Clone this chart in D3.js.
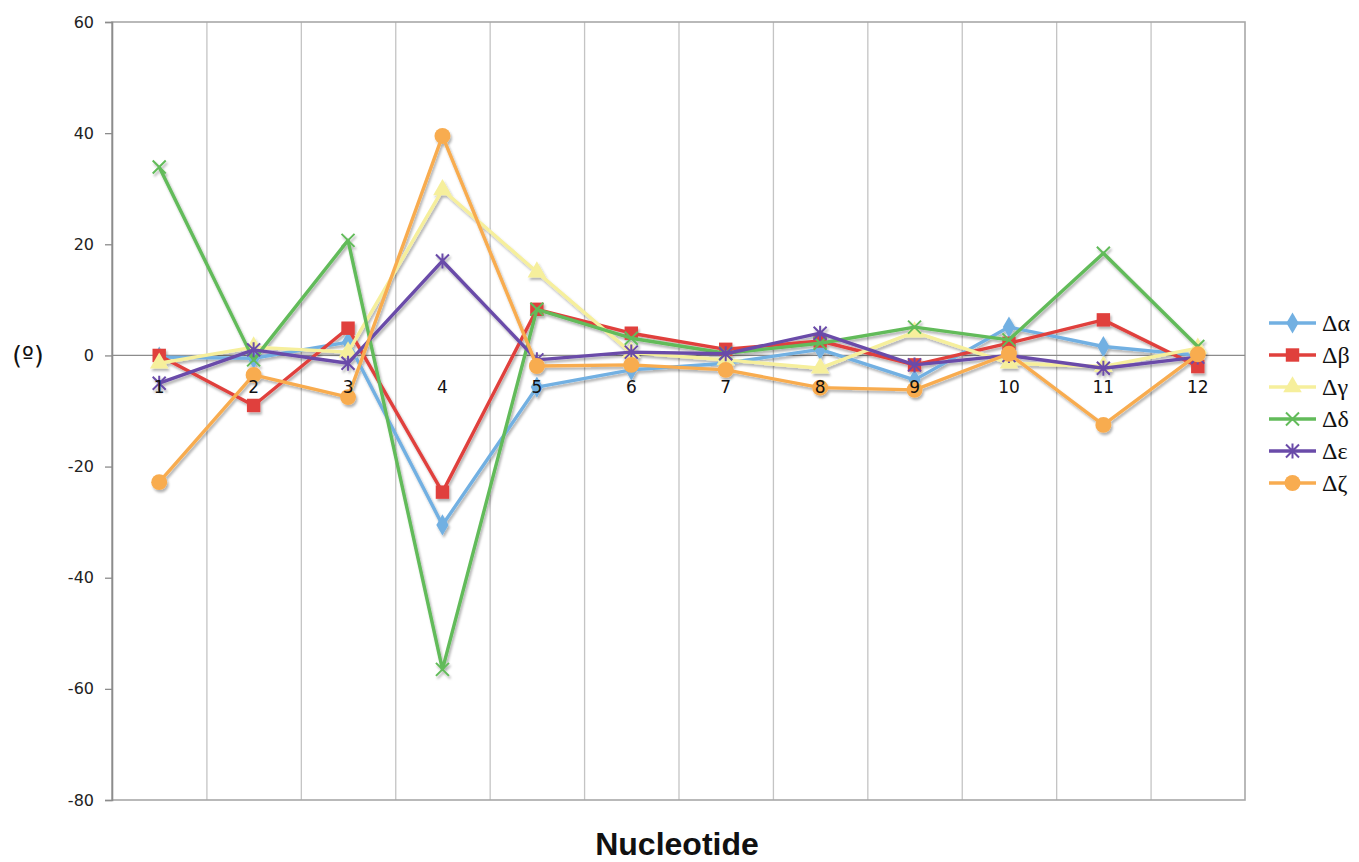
<!DOCTYPE html>
<html>
<head>
<meta charset="utf-8">
<script src="https://cdn.jsdelivr.net/npm/d3@7"></script>
<style>
  body { margin: 0; background: #fff; }
  svg { display: block; }
  .legend-label { font-family: "Liberation Serif", "Times New Roman", "DejaVu Serif", serif; }
</style>
</head>
<body>
<svg id="chart" width="1359" height="862"></svg>
<script>
const nucleotides = ['1', '2', '3', '4', '5', '6', '7', '8', '9', '10', '11', '12']
const yTicks = [60, 40, 20, 0, -20, -40, -60, -80]

const seriesNames = ['Δα', 'Δβ', 'Δγ', 'Δδ', 'Δε', 'Δζ']
const seriesColors = ['#72b0e2', '#e0403c', '#f6ef9c', '#62bb5a', '#6a4ba9', '#f8ac50']
const seriesMarkers = ['diamond', 'square', 'triangle', 'cross', 'star', 'circle']

const dAlpha = [-0.3, -0.5, 2.4, -30.5, -5.7, -2.6, -1.4, 1.1, -4.4, 5.1, 1.6, 0]
const dBeta = [0, -9, 4.9, -24.6, 8.3, 4.0, 1.1, 2.6, -1.7, 2.2, 6.4, -2]
const dGamma = [-1.4, 1.5, 0.6, 29.8, 15, 0.5, -0.8, -2.3, 4.2, -1.4, -2, 1.3]
const dDelta = [33.9, -0.8, 20.7, -56.5, 8.3, 3.1, 0.4, 2.2, 5.1, 2.8, 18.4, 1.6]
const dEpsilon = [-5, 1, -1.4, 17, -0.8, 0.6, 0.3, 4.0, -1.7, 0, -2.3, -0.3]
const dZeta = [-22.8, -3.5, -7.5, 39.5, -1.9, -1.7, -2.6, -5.8, -6.2, 0.3, -12.5, 0.2]

const seriesValues = [dAlpha, dBeta, dGamma, dDelta, dEpsilon, dZeta]

const plot = { left: 112, right: 1245, top: 22, bottom: 800 }

const svg = d3.select('#chart')

const x = d3.scaleBand()
    .domain(nucleotides)
    .range([plot.left, plot.right])
    .padding(0)

const y = d3.scaleLinear()
    .domain([-80, 60])
    .range([plot.bottom, plot.top])

// drop shadow like the old office charts
const defs = svg.append('defs')
defs.append('filter')
    .attr('id', 'shadow')
    .attr('x', '-20%').attr('y', '-20%')
    .attr('width', '140%').attr('height', '140%')
  .append('feDropShadow')
    .attr('dx', 1.5)
    .attr('dy', 2.5)
    .attr('stdDeviation', 1.2)
    .attr('flood-color', '#000')
    .attr('flood-opacity', 0.3)

// vertical grid lines at band edges
const grid = svg.append('g').attr('class', 'grid')
grid.selectAll('line')
    .data(nucleotides.slice(1))
    .join('line')
    .attr('x1', d => x(d) + 0.5)
    .attr('x2', d => x(d) + 0.5)
    .attr('y1', plot.top)
    .attr('y2', plot.bottom)
    .attr('stroke', '#c4c4c4')
    .attr('stroke-width', 1.3)

// plot border
svg.append('rect')
    .attr('x', plot.left)
    .attr('y', plot.top)
    .attr('width', plot.right - plot.left)
    .attr('height', plot.bottom - plot.top)
    .attr('fill', 'none')
    .attr('stroke', '#a8a8a8')
    .attr('stroke-width', 1.6)

// y axis
const yAxis = d3.axisLeft(y)
    .tickValues(yTicks)
    .tickFormat(d => String(d))
    .tickSize(7)
    .tickPadding(11)

const yAxisG = svg.append('g')
    .attr('transform', `translate(${plot.left},0)`)
    .call(yAxis)

yAxisG.select('.domain')
    .attr('stroke', '#8c8c8c')
    .attr('stroke-width', 1.6)
yAxisG.selectAll('.tick line')
    .attr('stroke', '#8c8c8c')
    .attr('stroke-width', 1.3)
yAxisG.selectAll('.tick text')
    .attr('font-family', 'DejaVu Sans, Verdana, sans-serif')
    .attr('font-size', 16)
    .attr('fill', '#222')

// zero line
svg.append('line')
    .attr('x1', plot.left)
    .attr('x2', plot.right)
    .attr('y1', y(0))
    .attr('y2', y(0))
    .attr('stroke', '#8c8c8c')
    .attr('stroke-width', 1.3)

// axis titles
svg.append('text')
    .attr('x', 28)
    .attr('y', y(0) + 9)
    .attr('text-anchor', 'middle')
    .attr('font-family', 'DejaVu Sans, Verdana, sans-serif')
    .attr('font-size', 25)
    .attr('fill', '#111')
    .text('(º)')

svg.append('text')
    .attr('x', 677)
    .attr('y', 855)
    .attr('text-anchor', 'middle')
    .attr('font-family', 'Liberation Sans, Arial, sans-serif')
    .attr('font-weight', 'bold')
    .attr('font-size', 32)
    .attr('fill', '#111')
    .text('Nucleotide')

function markerPath(type) {
  switch (type) {
    case 'diamond':
      return d3.symbol(d3.symbolDiamond, 130)()
    case 'square':
      return d3.symbol(d3.symbolSquare, 180)()
    case 'triangle':
      return d3.symbol(d3.symbolTriangle, 150)()
    case 'circle':
      return d3.symbol(d3.symbolCircle, 200)()
    case 'cross':
      return 'M-6.5,-6.5L6.5,6.5M-6.5,6.5L6.5,-6.5'
    case 'star':
      return 'M-6.5,-6.5L6.5,6.5M-6.5,6.5L6.5,-6.5M0,-7.5L0,7.5'
  }
}

function drawMarker(g, type, color) {
  const p = g.append('path').attr('d', markerPath(type))
  if (type === 'cross' || type === 'star') {
    p.attr('fill', 'none').attr('stroke', color).attr('stroke-width', 2)
  } else {
    p.attr('fill', color).attr('stroke', 'none')
  }
}

const line = d3.line()
    .x((d, i) => x(nucleotides[i]) + x.bandwidth() / 2)
    .y(d => y(d))

const seriesLayer = svg.append('g').attr('filter', 'url(#shadow)')

seriesValues.forEach((values, s) => {
  const g = seriesLayer.append('g')

  g.append('path')
      .attr('d', line(values))
      .attr('fill', 'none')
      .attr('stroke', seriesColors[s])
      .attr('stroke-width', 3.4)
      .attr('stroke-linejoin', 'round')

  values.forEach((v, i) => {
    const m = g.append('g')
        .attr('transform', `translate(${x(nucleotides[i]) + x.bandwidth() / 2},${y(v)})`)
    drawMarker(m, seriesMarkers[s], seriesColors[s])
  })
})

// category labels hang under the zero line, drawn over the series
svg.append('g')
    .selectAll('text')
    .data(nucleotides)
    .join('text')
    .attr('x', d => x(d) + x.bandwidth() / 2)
    .attr('y', y(0) + 38)
    .attr('text-anchor', 'middle')
    .attr('font-family', 'DejaVu Sans, Verdana, sans-serif')
    .attr('font-size', 17)
    .attr('fill', '#111')
    .text(d => d)

// legend
const legend = svg.append('g')
    .attr('transform', 'translate(1269,323)')

seriesNames.forEach((name, s) => {
  const row = legend.append('g')
      .attr('transform', `translate(0,${s * 32})`)

  row.append('line')
      .attr('x1', 0)
      .attr('x2', 47)
      .attr('stroke', seriesColors[s])
      .attr('stroke-width', 3.4)

  const m = row.append('g').attr('transform', 'translate(23.5,0)')
  drawMarker(m, seriesMarkers[s], seriesColors[s])

  row.append('text')
      .attr('class', 'legend-label')
      .attr('x', 53)
      .attr('y', 8)
      .attr('font-size', 24)
      .attr('fill', '#111')
      .text(name)
})
</script>
</body>
</html>
